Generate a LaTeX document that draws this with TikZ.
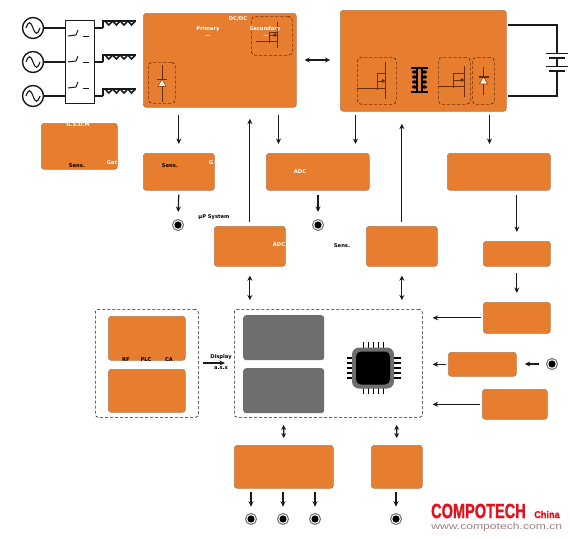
\documentclass[tikz,border=0pt]{standalone}
\usepackage{fontspec}
\setmainfont{DejaVu Sans}
\newfontfamily\logofont[UprightFont={* Bold},FakeBold=1.5]{Liberation Sans}
\newfontfamily\webfont{Liberation Sans}
\usetikzlibrary{arrows.meta,calc,shapes.geometric}
\definecolor{org}{HTML}{E77D2E}
\definecolor{orgedge}{HTML}{B97B4E}
\definecolor{gry}{HTML}{6E6E6E}
\definecolor{dk}{HTML}{1A1A1A}
\definecolor{brn}{HTML}{6B2E0A}
\definecolor{logored}{HTML}{E0141E}
\definecolor{webc}{HTML}{A08080}
\tikzset{
 obox/.style={draw=orgedge,line width=.7pt,fill=org,rounded corners=3pt,anchor=north west,inner sep=0pt},
 gbox/.style={fill=gry,rounded corners=3pt,anchor=north west,inner sep=0pt},
 dbox/.style={draw=dk,densely dashed,line width=.6pt,rounded corners=3pt,anchor=north west,inner sep=0pt},
 bdash/.style={draw=brn,densely dashed,line width=.7pt,rounded corners=4pt,anchor=north west,inner sep=0pt},
 arr/.style={-{Stealth[length=5.5pt,width=5pt]},line width=1.25pt,draw=dk},
 darr/.style={{Stealth[length=5pt,width=5pt]}-{Stealth[length=5pt,width=5pt]},line width=1.25pt,draw=dk},
 wire/.style={line width=1.4pt,draw=dk},
 brnw/.style={line width=1pt,draw=brn},
 wt/.style={text=white,font=\bfseries\fontsize{5.2}{6}\selectfont,inner sep=0pt},
 bt/.style={text=black,font=\bfseries\fontsize{5.2}{6}\selectfont,inner sep=0pt},
 term/.style={circle,draw=gry,line width=1pt,fill=white,minimum size=11pt,inner sep=0pt,path picture={\fill[black] (path picture bounding box.center) circle (3.6pt);}},
 src/.style={circle,draw=dk,line width=1.4pt,fill=white,minimum size=21pt,inner sep=0pt,path picture={\draw[dk,line width=1.1pt] ($(path picture bounding box.center)+(-7,0)$) .. controls +(2.5,-7) and +(-2.5,-7) .. ($(path picture bounding box.center)$) .. controls +(2.5,7) and +(-2.5,7) .. ($(path picture bounding box.center)+(7,0)$);}},
}
\newcommand{\bx}[6][obox]{\node[#1,minimum width=#4pt-#2pt,minimum height=#5pt-#3pt] (#6) at (#2,#3) {};}
\newcommand{\coilrow}[1]{\draw[wire] (103,#1) -- (103,#1-7) -- (136,#1-7);
 \foreach \k in {0,1,2,3}{\draw[line width=1.6pt,dk] (105+\k*7.6,#1-7) -- (108.8+\k*7.6,#1-3) -- (112.6+\k*7.6,#1-7);}}
% gate x, gate y, bar x, main x, top, bottom, upper line y, dot y
\newcommand{\mosfet}[8]{
 \draw[brnw] (#1,#2) -- (#3,#2) (#3,#7) -- (#3,#2+2) (#3,#7) -- (#4,#7) (#3,#2) -- (#4,#2) (#3,#8) -- (#4,#8) (#4,#5) -- (#4,#6);
 \fill[brn] (#4-2,#8) circle (1.8pt);}
\newcommand{\diode}[3]{\draw[brnw] (#1,#2) -- (#1,#3);
 \node[isosceles triangle,isosceles triangle apex angle=60,shape border rotate=90,draw=brn,fill=white!90!org,line width=.4pt,inner sep=0pt,minimum size=7pt] at (#1,{(#2+#3)/2+0.5}) {};
 \draw[brn,line width=1.1pt] (#1-5,{(#2+#3)/2-4}) -- (#1+5,{(#2+#3)/2-4});}
\begin{document}
\begin{tikzpicture}[x=1pt,y=-1pt]
\useasboundingbox (0,0) rectangle (570,538);
% orange boxes
\bx{143}{13}{296}{107}{dcdc}
\bx{340}{10}{506}{111}{iso}
\bx{41}{123}{117}{169}{gsd}
\bx{143}{153}{214}{190}{sensa}
\bx{266}{153}{369}{190}{adca}
\bx{447}{153}{550}{190}{rta}
\bx{214}{226}{285}{266}{adcb}
\bx{366}{226}{437}{266}{sensb}
\bx{483}{241}{550}{266}{rtb}
\bx{483}{302}{550}{333}{rtc}
\bx{448}{352}{516}{376}{rtd}
\bx{482}{389}{547}{419}{rte}
\bx[dbox]{95}{309}{198}{417}{comm}
\bx[dbox]{234}{309}{422}{417}{mcu}
\bx{108}{316}{185}{360}{cma}
\bx{108}{369}{185}{412}{cmb}
\bx[gbox]{243}{315}{324}{360}{mema}
\bx[gbox]{243}{368}{324}{413}{memb}
\bx{234}{445}{333}{488}{outa}
\bx{371}{445}{422}{488}{outb}
% mains
\node[src] (s1) at (33,28) {};
\node[src] (s2) at (33,62) {};
\node[src] (s3) at (33,96) {};
\bx[draw=dk,line width=1.4pt,fill=white,anchor=north west,inner sep=0pt]{65}{20}{94}{103}{sw}
\draw[wire] (s1) -- (s1-|sw.west);
\draw[wire] (s2) -- (s2-|sw.west);
\draw[wire] (s3) -- (s3-|sw.west);
\foreach \y in {36,62,88}{
 \draw[dk,line width=1pt] (68,\y) -- (76,\y-1) -- (78,\y-6);
 \draw[dk,line width=.6pt] (83,\y) -- (89,\y);}
\draw[wire] (94,28) -- (103,28); \draw[wire] (94,62) -- (103,62); \draw[wire] (94,96) -- (103,96);
\coilrow{28}\coilrow{62}\coilrow{96}
% dcdc details
\node[bdash,minimum width=41pt,minimum height=39pt] (dsec) at (251,16) {};
\node[bdash,minimum width=27pt,minimum height=41pt] (dpri) at (148,62) {};
\mosfet{256}{41}{269}{277}{22}{48}{32}{35}
\diode{162}{65}{102}
\node[wt] (t1) at (238,19) {DC/DC};
\node[wt] (t2) at (208,29) {Primary};
\node[wt] (t3) at (208,37) {---};
\node[wt] (t4) at (265,29) {Secondary};
\node[wt] (t5) at (266,37) {---};
% iso details
\node[bdash,minimum width=39pt,minimum height=47pt] (d1) at (357,57) {};
\node[bdash,minimum width=32pt,minimum height=47pt] (d2) at (438,57) {};
\node[bdash,minimum width=22pt,minimum height=47pt] (d3) at (472,57) {};
\mosfet{357}{88}{377}{385}{62}{99}{73}{81}
\mosfet{438}{86}{453}{464}{66}{97}{73}{80}
\diode{483.5}{67}{95}
% transformer
\draw[line width=1.4pt,black] (411,68) -- (428,68) (411,92) -- (428,92);
\draw[line width=1.4pt,black] (417,68) -- (417,92) (422,68) -- (422,92);
\foreach \y in {72,77,82,87}{\fill[black] (414.5,\y) ellipse (2.5pt and 1.7pt); \fill[black] (424.5,\y) ellipse (2.5pt and 1.7pt);}
% battery
\coordinate (ba) at (508,25);
\coordinate (bb) at (508,96);
\draw[wire] (ba) -- (557,25) -- (557,53);
\draw[wire] (bb) -- (557,96) -- (557,71);
\draw[wire] (546,53.5) -- (568,53.5) (549,58) -- (565,58) (546,66.5) -- (568,66.5) (549,71) -- (565,71);
\draw[wire] (557,58) -- (557,66);
% chip
\foreach \k in {0,1,2,3,4}{
 \draw[black,line width=1.3pt] (363.5+\k*5,342) -- (363.5+\k*5,394);
 \draw[black,line width=1.3pt] (346.5,358+\k*5) -- (401,358+\k*5);}
\node[fill=gry,rounded corners=7pt,minimum width=42pt,minimum height=41pt,inner sep=0pt] (chipo) at (373,368) {};
\node[fill=black,rounded corners=5pt,minimum width=34pt,minimum height=33pt,inner sep=0pt] (chip) at (373,368) {};
% terminals
\node[term] (ta) at (178,225) {};
\node[term] (tb) at (318,225) {};
\node[term] (tc) at (552,364) {};
\node[term] (td) at (251,519) {};
\node[term] (te) at (283,519) {};
\node[term] (tf) at (315,519) {};
\node[term] (tg) at (396,519) {};
% arrows
\draw[arr,shorten <=7pt,shorten >=9pt] (dcdc.south-|sensa) -- (sensa.north);
\draw[arr,shorten <=4pt,shorten >=7pt] (sensa.south) -- (ta.north);
\draw[arr,shorten <=4pt,shorten >=11pt] (adcb.north) -- (adcb.north|-dcdc.south);
\draw[arr,shorten <=7pt,shorten >=9pt] (dcdc.south-|278.5,0) -- (278.5,153);
\draw[arr,shorten <=4pt,shorten >=7pt] (adca.south-|tb) -- (tb.north);
\draw[arr,shorten <=3pt,shorten >=9pt] (iso.south-|355.5,0) -- (355.5,153);
\draw[arr,shorten <=4pt,shorten >=12pt] (sensb.north) -- (sensb.north|-iso.south);
\draw[arr,shorten <=3pt,shorten >=9pt] (iso.south-|489.5,0) -- (489.5,153);
\draw[arr,shorten <=4pt,shorten >=9pt] (rta.south-|rtb.north) -- (rtb.north);
\draw[arr,shorten <=6pt,shorten >=9pt] (rtb.south) -- (rtc.north);
\draw[darr,shorten <=9pt,shorten >=9pt] (adcb.south) -- (adcb.south|-mcu.north);
\draw[darr,shorten <=9pt,shorten >=9pt] (sensb.south) -- (sensb.south|-mcu.north);
\draw[arr,shorten <=2pt,shorten >=10pt] (rtc.west) -- (rtc.west-|mcu.east);
\draw[arr,shorten <=2pt,shorten >=10pt] (rtd.west) -- (rtd.west-|mcu.east);
\draw[arr,shorten <=2pt,shorten >=10pt] (rte.west) -- (rte.west-|mcu.east);
\draw[arr,shorten <=7pt,shorten >=8pt] (tc.west) -- (rtd.east|-tc.west);
\draw[darr,shorten <=8pt,shorten >=7pt] (283.5,417) -- (outa.north);
\draw[darr,shorten <=8pt,shorten >=7pt] (396.5,417) -- (outb.north);
\draw[arr] (outa.south-|td) ++(0,3) -- ++(0,15);
\draw[arr] (outa.south-|te) ++(0,3) -- ++(0,15);
\draw[arr] (outa.south-|tf) ++(0,3) -- ++(0,15);
\draw[arr] (outb.south-|tg) ++(0,3) -- ++(0,15);
\draw[darr,shorten <=8pt,shorten >=10pt] (dcdc.east|-304,60) -- (iso.west|-304,60);
\draw[arr,shorten <=4pt,shorten >=9pt] (comm.east|-202,363) -- (mcu.west|-202,363);
% labels
\node[wt] (l1) at (78,124.5) {G.S.D.M};
\node[bt] (l2) at (77,166) {Sens.};
\node[wt] (l3) at (112,163) {Gat};
\node[bt] (l4) at (170,166) {Sens.};
\node[wt] (l5) at (211,163) {G};
\node[wt] (l6) at (300,172) {ADC};
\node[bt] (l7) at (214,217) {µP System};
\node[wt] (l8) at (279,245) {ADC};
\node[bt] (l9) at (342,246) {Sens.};
\node[bt] (l10) at (126,360) {RF};
\node[bt] (l11) at (146,360) {PLC};
\node[bt] (l12) at (169,360) {CA};
\node[bt] (l13) at (221,357) {Display};
\node[bt] (l14) at (221,368) {a.s.x};
% logo
\node[text=logored,font=\logofont\fontsize{20.5}{21}\selectfont,inner sep=0pt,anchor=west,xscale=.71] (logo) at (431,511) {COMPOTECH};
\node[text=logored,font=\logofont\fontsize{10}{11}\selectfont,inner sep=0pt,anchor=west,xscale=.92] (logo2) at (534,514.5) {China};
\node[text=webc,font=\webfont\fontsize{9.2}{10}\selectfont,inner sep=0pt,anchor=west,xscale=1.32] (logo3) at (431,527) {www.compotech.com.cn};
\end{tikzpicture}
\end{document}
